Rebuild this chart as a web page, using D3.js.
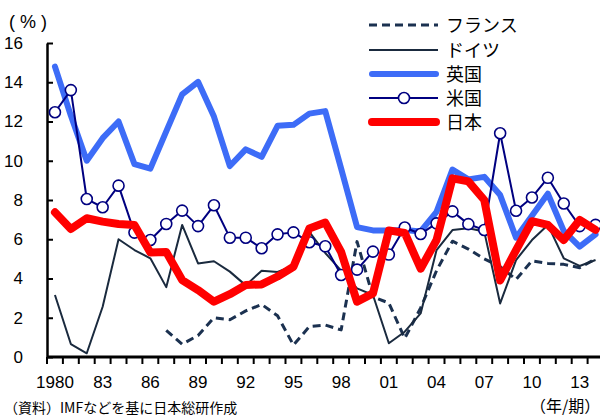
<!DOCTYPE html>
<html>
<head>
<meta charset="utf-8">
<script src="https://cdn.jsdelivr.net/npm/d3@7"></script>
<style>
  html, body { margin: 0; padding: 0; background: #fff; }
  svg { display: block; }
  text { font-family: "Liberation Sans", Arial, "Noto Sans CJK JP", sans-serif; fill: #000; }
  .jp { font-family: "Noto Sans CJK JP", "Liberation Sans", sans-serif; }
</style>
</head>
<body>
<svg id="chart" width="600" height="416"></svg>
<script>
// ---- data ----
const years = d3.range(1980, 2015);
const tickLabels = ["1980", "83", "86", "89", "92", "95", "98", "01", "04", "07", "10", "13"];
const labelYears = [1980, 1983, 1986, 1989, 1992, 1995, 1998, 2001, 2004, 2007, 2010, 2013];
const yTicks = [0, 2, 4, 6, 8, 10, 12, 14, 16];

const france = [null, null, null, null, null, null, null,
  1.36, 0.65, 1.1, 2.0, 1.9, 2.35, 2.68, 2.1, 0.61, 1.55, 1.63, 1.38, 5.88, 3.07, 2.75, 0.95,
  2.5, 4.4, 5.9, 5.5, 5.0, 4.6, 3.95, 4.9, 4.77, 4.72, 4.55, 5.0];
const germany = [3.16, 0.66, 0.19, 2.56, 6.0, 5.45, 5.03, 3.56, 6.73, 4.77, 4.88, 4.35, 3.65, 4.4,
  4.33, 4.65, 6.38, 5.3, 4.4, 3.5, 3.16, 0.7, 1.29, 2.22, 5.45, 6.47, 6.56, 6.39, 2.73, 4.94,
  5.96, 6.73, 5.03, 4.64, 4.94];
const uk = [14.8, 12.3, 10.0, 11.15, 12.0, 9.83, 9.6, 11.5, 13.38, 14.02, 12.25, 9.73, 10.58, 10.2,
  11.78, 11.83, 12.4, 12.53, 9.6, 6.62, 6.45, 6.45, 6.47, 6.4, 7.4, 9.55, 9.05, 9.18, 8.25, 6.08,
  7.2, 8.32, 6.43, 5.62, 6.25];
const us = [12.47, 13.6, 8.05, 7.63, 8.73, 6.34, 5.96, 6.78, 7.46, 6.67, 7.73, 6.08, 6.08, 5.54,
  6.25, 6.35, 5.85, 5.64, 4.18, 4.45, 5.37, 5.22, 6.6, 6.27, 6.81, 7.42, 6.77, 6.47, 11.4, 7.45,
  8.13, 9.13, 7.82, 6.67, 6.73];
const japan = [7.37, 6.52, 7.07, 6.9, 6.78, 6.73, 5.33, 5.35, 3.92, 3.41, 2.82, 3.2, 3.67, 3.7,
  4.1, 4.6, 6.55, 6.85, 5.35, 2.82, 3.24, 6.45, 6.32, 4.5, 5.96, 9.1, 8.95, 8.0, 3.9, 5.45,
  6.92, 6.73, 5.96, 6.98, 6.48];

const seriesNames = ["フランス", "ドイツ", "英国", "米国", "日本"];

// ---- layout ----
const svg = d3.select("#chart");
const plotLeft = 47, plotTop = 43, plotBottom = 357, step = 15.9;
const x = d3.scaleBand().domain(years).range([plotLeft, plotLeft + years.length * step]).padding(0);
const y = d3.scaleLinear().domain([0, 16]).range([plotBottom, plotTop]);
const cx = d => x(d) + x.bandwidth() / 2;

const styles = [
  { data: france, color: "#1b3150", width: 3, dash: "8,5", cap: "butt" },
  { data: germany, color: "#1a2a3e", width: 2, dash: null, cap: "butt" },
  { data: uk, color: "#3d6cf7", width: 6, dash: null, cap: "round" },
  { data: us, color: "#000080", width: 2, dash: null, cap: "butt", marker: true },
  { data: japan, color: "#ff0000", width: 8, dash: null, cap: "round" }
];

// ---- y axis ----
const yAxis = d3.axisLeft(y).tickValues(yTicks).tickSizeInner(-6).tickSizeOuter(0).tickPadding(24);
const gy = svg.append("g").attr("transform", `translate(${plotLeft},0)`).call(yAxis);
gy.select(".domain").attr("stroke", "#000").attr("stroke-width", 2.5);
gy.selectAll(".tick line").attr("stroke", "#000").attr("stroke-width", 2);
gy.selectAll(".tick text").style("font-size", "17px").attr("fill", "#000")
  .style("font-family", "'Liberation Sans', Arial, sans-serif");

// ---- x axis (ticks on category boundaries, labels at centres) ----
const gx = svg.append("g");
gx.append("line").attr("x1", plotLeft).attr("x2", 600).attr("y1", plotBottom).attr("y2", plotBottom)
  .attr("stroke", "#000").attr("stroke-width", 3);
gx.selectAll("line.tk").data(years.concat([null])).enter().append("line")
  .attr("class", "tk")
  .attr("x1", d => d === null ? x(2014) + x.bandwidth() : x(d))
  .attr("x2", d => d === null ? x(2014) + x.bandwidth() : x(d))
  .attr("y1", plotBottom).attr("y2", plotBottom + 7)
  .attr("stroke", "#000").attr("stroke-width", 2);
gx.selectAll("text.lbl").data(labelYears).enter().append("text")
  .attr("class", "lbl")
  .attr("x", d => cx(d)).attr("y", 388)
  .attr("text-anchor", "middle").style("font-size", "17px")
  .text((d, i) => tickLabels[i]);

// ---- lines ----
styles.forEach(s => {
  const line = d3.line().defined(d => d[1] !== null).x(d => cx(d[0])).y(d => y(d[1]));
  const pts = years.map((yr, i) => [yr, s.data[i]]);
  svg.append("path").datum(pts)
    .attr("d", line)
    .attr("fill", "none").attr("stroke", s.color).attr("stroke-width", s.width)
    .attr("stroke-linejoin", "round").attr("stroke-linecap", s.cap)
    .attr("stroke-dasharray", s.dash);
  if (s.marker) {
    svg.append("g").selectAll("circle").data(pts.filter(p => p[1] !== null)).enter().append("circle")
      .attr("cx", d => cx(d[0])).attr("cy", d => y(d[1])).attr("r", 5.5)
      .attr("fill", "#fff").attr("stroke", s.color).attr("stroke-width", 1.6);
  }
});

// ---- legend ----
const legendRows = [25, 50, 74, 98, 122];
const lg = svg.append("g");
styles.forEach((s, i) => {
  const ry = legendRows[i];
  lg.append("line").attr("x1", s.cap === "round" ? 372 : 369).attr("x2", s.cap === "round" ? 436 : 438)
    .attr("y1", ry).attr("y2", ry)
    .attr("stroke", s.color).attr("stroke-width", s.width)
    .attr("stroke-linecap", s.cap).attr("stroke-dasharray", s.dash);
  if (s.marker) {
    lg.append("circle").attr("cx", 404).attr("cy", ry).attr("r", 5.5)
      .attr("fill", "#fff").attr("stroke", s.color).attr("stroke-width", 1.6);
  }
  lg.append("text").attr("class", "jp").attr("x", 446).attr("y", ry + 6.5)
    .style("font-size", "18px").text(seriesNames[i]);
});

// ---- titles / notes ----
svg.append("text").attr("x", 9).attr("y", 28).style("font-size", "18px")
  .attr("letter-spacing", "5px").text("(%)");
svg.append("text").attr("class", "jp").attr("x", 530).attr("y", 412).style("font-size", "16px")
  .text("（年/期）");
svg.append("text").attr("class", "jp").attr("x", 4).attr("y", 413).style("font-size", "14px")
  .text("（資料）IMFなどを基に日本総研作成");
</script>
</body>
</html>
